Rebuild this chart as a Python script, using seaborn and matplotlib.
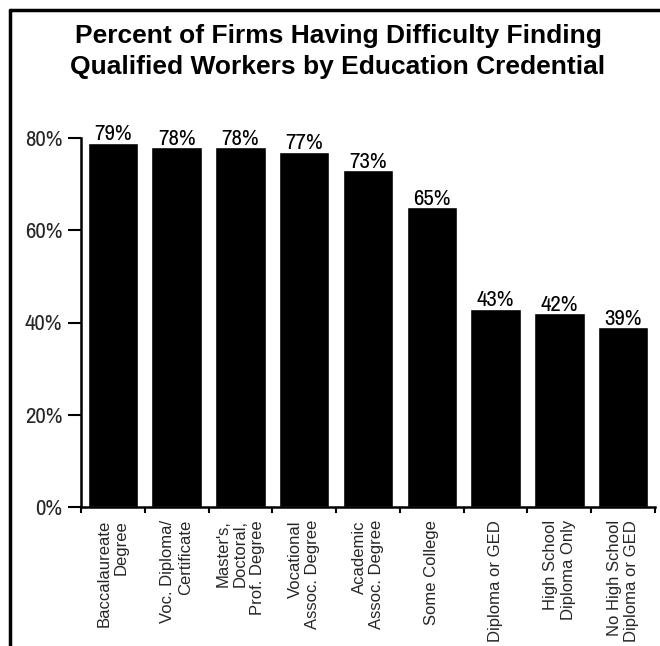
import matplotlib
matplotlib.use("Agg")
import matplotlib.pyplot as plt
from matplotlib import font_manager
from matplotlib.lines import Line2D
import seaborn as sns
import pandas as pd

# Survey results: share of firms reporting difficulty hiring, by credential
categories = [
    "Baccalaureate\nDegree",
    "Voc. Diploma/\nCertificate",
    "Master's,\nDoctoral,\nProf. Degree",
    "Vocational\nAssoc. Degree",
    "Academic\nAssoc. Degree",
    "Some College",
    "Diploma or GED",
    "High School\nDiploma Only",
    "No High School\nDiploma or GED",
]
values = [79, 78, 78, 77, 73, 65, 43, 42, 39]
yticks = [0, 20, 40, 60, 80]
title = "Percent of Firms Having Difficulty Finding\nQualified Workers by Education Credential"

sns.set_theme(style="white")
plt.rcParams["font.family"] = ["Liberation Sans", "DejaVu Sans"]

# prefer a condensed face for the numbers when one is available
installed = sorted({f.name for f in font_manager.fontManager.ttflist})
narrow = next((n for n in installed if "Narrow" in n or "Condensed" in n), None)
num_font = dict(family=narrow, size=16.5) if narrow else dict(family="Liberation Sans", size=15)

W, H = 660, 646
fig = plt.figure(figsize=(W / 100, H / 100), dpi=100)
ax = fig.add_axes([81 / W, (H - 507) / H, (655 - 81) / W, (507 - 138) / H])

df = pd.DataFrame({"credential": categories, "pct": values})
sns.barplot(data=df, x="credential", y="pct", color="black", saturation=1,
            width=0.79, ax=ax, errorbar=None)

ax.set_xlim(-0.5, len(categories) - 0.5)
ax.set_ylim(0, 80)
ax.set_xlabel("")
ax.set_ylabel("")

# value labels above each bar
for cont in ax.containers:
    ax.bar_label(cont, labels=[f"{v}%" for v in values], padding=-1,
                 clip_on=False, color="black", **num_font)

# y axis: percent ticks pointing outward
ax.set_yticks(yticks)
ax.set_yticklabels([f"{t}%" for t in yticks], **num_font)
ax.tick_params(axis="y", length=9.5, width=1.5, pad=4, color="black",
               direction="out", left=True)

# x axis: labels under bars, tick marks at category boundaries
ax.set_xticks(range(len(categories)))
ax.set_xticklabels(categories, rotation=90, ha="center", va="top",
                   multialignment="right", fontsize=12, family="Liberation Sans")
ax.tick_params(axis="x", which="major", length=0, pad=9.5, bottom=False)
ax.set_xticks([i - 0.5 for i in range(len(categories) + 1)], minor=True)
ax.tick_params(axis="x", which="minor", length=4, width=1.5, color="black",
               direction="out", bottom=True)

for side in ("top", "right"):
    ax.spines[side].set_visible(False)
for side in ("left", "bottom"):
    ax.spines[side].set_color("black")
    ax.spines[side].set_linewidth(1.8)

fig.text(338 / W, 1 - 24 / H, title, ha="center", va="top",
         fontsize=19, fontweight="bold", family="Liberation Sans",
         linespacing=1.35, color="black")

# outer frame lines on the left and top edges
fig.add_artist(Line2D([10 / W, 10 / W], [0, 1 - 10 / H], transform=fig.transFigure,
                      color="black", linewidth=2.5))
fig.add_artist(Line2D([10 / W, 1], [1 - 10 / H, 1 - 10 / H], transform=fig.transFigure,
                      color="black", linewidth=2.5))

fig.savefig("out.png", dpi=100, facecolor="white")
